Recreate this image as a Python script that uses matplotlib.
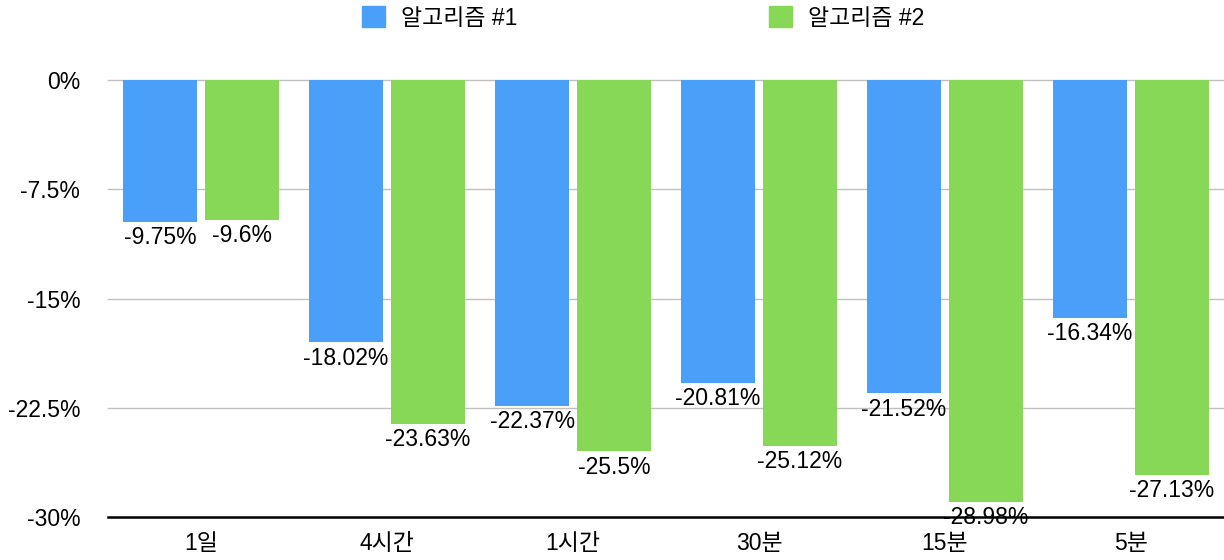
import numpy as np
import matplotlib.pyplot as plt
from matplotlib.patches import Patch

plt.rcParams["font.family"] = ["Liberation Sans", "Noto Sans CJK KR", "DejaVu Sans"]

categories = ["1일", "4시간", "1시간", "30분", "15분", "5분"]
series_names = ["알고리즘 #1", "알고리즘 #2"]
algo1 = [-9.75, -18.02, -22.37, -20.81, -21.52, -16.34]
algo2 = [-9.6, -23.63, -25.5, -25.12, -28.98, -27.13]
yticks = [0, -7.5, -15, -22.5, -30]

colors = ["#4aa0f8", "#86d856"]

fig = plt.figure(figsize=(12.24, 5.6), dpi=100)
ax = fig.add_axes([108 / 1224, 43 / 560, 1 - 108 / 1224, 437 / 560])

x = np.arange(len(categories))
width = 0.398
offset = 0.22

for vals, off, col in zip([algo1, algo2], [-offset, offset], colors):
    bars = ax.bar(x + off, vals, width, color=col, zorder=2)
    for b, v in zip(bars, vals):
        ax.annotate(
            f"{v:g}%",
            (b.get_x() + b.get_width() / 2, v),
            xytext=(0, -3),
            textcoords="offset points",
            ha="center",
            va="top",
            fontsize=16.5,
            zorder=3,
        )

ax.set_xlim(-0.5, len(categories) - 0.5)
ax.set_ylim(-30, 0)
ax.set_yticks(yticks)
ax.set_yticklabels([f"{t:g}%" for t in yticks], fontsize=16.5)
ax.set_xticks(x)
ax.set_xticklabels(categories, fontsize=16.5)
ax.tick_params(axis="both", length=0)
ax.tick_params(axis="y", pad=20)
ax.tick_params(axis="x", pad=11)

for t in yticks[:-1]:
    ax.axhline(t, color="#c0c0c0", lw=1, zorder=1, clip_on=False)

for s in ["top", "left", "right"]:
    ax.spines[s].set_visible(False)
ax.spines["bottom"].set_color("black")
ax.spines["bottom"].set_linewidth(1.8)
ax.spines["bottom"].set_zorder(4)

handles = [Patch(color=c) for c in colors]
fig.legend(
    handles,
    series_names,
    loc="center",
    bbox_to_anchor=(643 / 1224, 1 - 18 / 560),
    ncol=2,
    frameon=False,
    fontsize=16.5,
    handlelength=1.0,
    handleheight=1.0,
    handletextpad=0.7,
    columnspacing=11,
)

fig.savefig("out.png", dpi=100)
